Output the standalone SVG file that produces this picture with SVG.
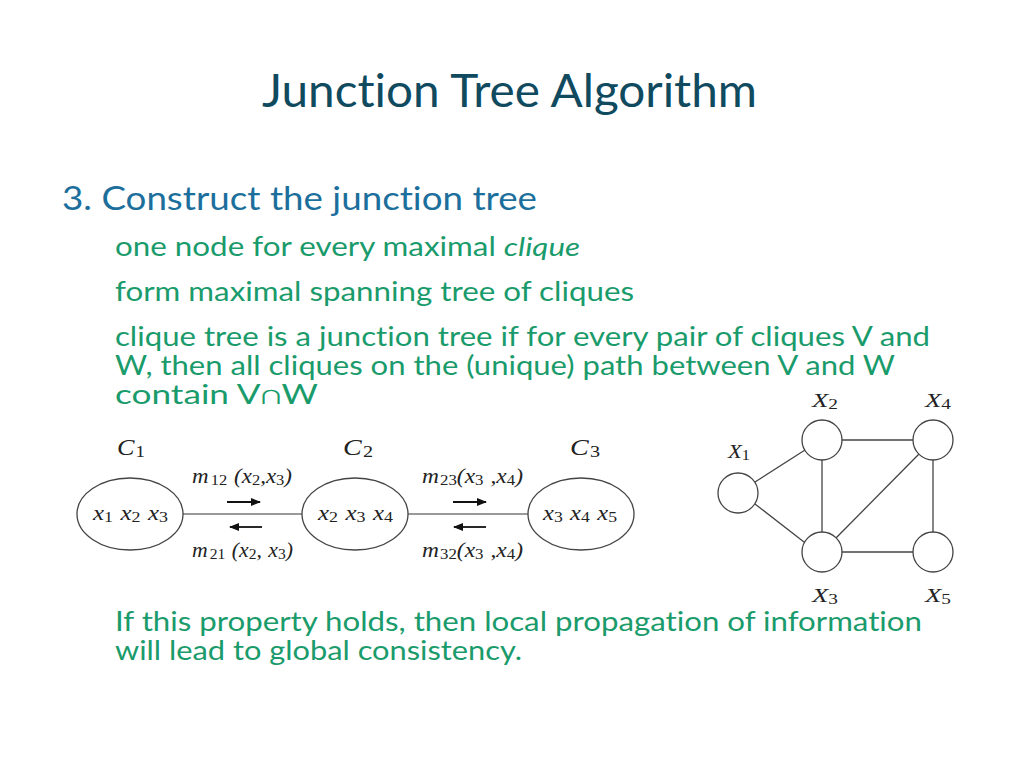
<svg xmlns="http://www.w3.org/2000/svg" width="1023" height="767" viewBox="0 0 1023 767">
<defs>
<style>
text{font-variant-ligatures:none}
.title{font-family:Lato,"Open Sans",sans-serif;font-size:46px;fill:#0f4a5f}
.h1{font-family:Lato,"Open Sans",sans-serif;font-size:32px;fill:#1c6f9c}
.g{font-family:Lato,"Open Sans",sans-serif;font-size:26px;fill:#1a9b6b}
.m{font-family:"Liberation Serif",serif;font-style:italic;fill:#222;word-spacing:1px}
.sub{font-style:normal;font-size:72%;baseline-shift:-2px}
.ell{fill:#fff;stroke:#444;stroke-width:1.3}
.edge{stroke:#777;stroke-width:1.6;fill:none}
.arr{stroke:#111;stroke-width:1.8;fill:none}
.gedge{stroke:#444;stroke-width:1.3;fill:none}
</style>
<marker id="ah" markerWidth="10" markerHeight="8" refX="9" refY="4" orient="auto" markerUnits="userSpaceOnUse">
<path d="M0,0 L10,4 L0,8 z" fill="#111"/>
</marker>
</defs>
<rect width="1023" height="767" fill="#fff"/>
<g id="text">
<text class="title" x="262" y="107" textLength="495" lengthAdjust="spacingAndGlyphs">Junction Tree Algorithm</text>
<text class="h1" x="62" y="210" textLength="475" lengthAdjust="spacingAndGlyphs">3. Construct the junction tree</text>
<text class="g" x="115" y="256" textLength="465" lengthAdjust="spacingAndGlyphs">one node for every maximal <tspan font-style="italic">clique</tspan></text>
<text class="g" x="115" y="301" textLength="519" lengthAdjust="spacingAndGlyphs">form maximal spanning tree of cliques</text>
<text class="g" x="115" y="346" textLength="815" lengthAdjust="spacingAndGlyphs">clique tree is a junction tree if for every pair of cliques V and</text>
<text class="g" x="115" y="375" textLength="780" lengthAdjust="spacingAndGlyphs">W, then all cliques on the (unique) path between V and W</text>
<text class="g" x="115" y="404" textLength="203" lengthAdjust="spacingAndGlyphs">contain V∩W</text>
<text class="g" x="115" y="631" textLength="807" lengthAdjust="spacingAndGlyphs">If this property holds, then local propagation of information</text>
<text class="g" x="115" y="660" textLength="407" lengthAdjust="spacingAndGlyphs">will lead to global consistency.</text>
</g>
<g id="connectors">
<line class="edge" x1="183" y1="514" x2="302" y2="514"/>
<line class="edge" x1="408" y1="514" x2="528" y2="514"/>
<line class="arr" x1="227" y1="502" x2="260" y2="502" marker-end="url(#ah)"/>
<line class="arr" x1="262" y1="527" x2="230" y2="527" marker-end="url(#ah)"/>
<line class="arr" x1="453" y1="502" x2="486" y2="502" marker-end="url(#ah)"/>
<line class="arr" x1="486" y1="527" x2="454" y2="527" marker-end="url(#ah)"/>
<line class="gedge" x1="755" y1="482" x2="805" y2="450"/>
<line class="gedge" x1="755" y1="504" x2="804" y2="542"/>
<line class="gedge" x1="822" y1="460" x2="822" y2="532"/>
<line class="gedge" x1="842" y1="440" x2="913" y2="440"/>
<line class="gedge" x1="836" y1="538" x2="919" y2="454"/>
<line class="gedge" x1="842" y1="552" x2="913" y2="552"/>
<line class="gedge" x1="933" y1="460" x2="933" y2="532"/>
<text class="m" x="192" y="483" font-size="21" textLength="100" lengthAdjust="spacingAndGlyphs">m<tspan class="sub" dx="2">12</tspan> (x<tspan class="sub">2</tspan>,x<tspan class="sub">3</tspan>)</text>
<text class="m" x="192" y="557" font-size="21" textLength="101" lengthAdjust="spacingAndGlyphs">m<tspan class="sub" dx="2">21</tspan> (x<tspan class="sub">2</tspan>, x<tspan class="sub">3</tspan>)</text>
<text class="m" x="422" y="483" font-size="21" textLength="101" lengthAdjust="spacingAndGlyphs">m<tspan class="sub" dx="1">23</tspan>(x<tspan class="sub">3</tspan> ,x<tspan class="sub">4</tspan>)</text>
<text class="m" x="422" y="557" font-size="21" textLength="101" lengthAdjust="spacingAndGlyphs">m<tspan class="sub" dx="1">32</tspan>(x<tspan class="sub">3</tspan> ,x<tspan class="sub">4</tspan>)</text>
</g>
<g id="C1">
<ellipse class="ell" cx="130" cy="514" rx="53" ry="36"/>
<text class="m" x="117" y="455" font-size="24" textLength="28" lengthAdjust="spacingAndGlyphs">C<tspan class="sub" dx="1">1</tspan></text>
<text class="m" x="93" y="520" font-size="20" textLength="75" lengthAdjust="spacingAndGlyphs">x<tspan class="sub">1</tspan> x<tspan class="sub">2</tspan> x<tspan class="sub">3</tspan></text>
</g>
<g id="C2">
<ellipse class="ell" cx="355" cy="514" rx="53" ry="36"/>
<text class="m" x="343" y="455" font-size="24" textLength="30" lengthAdjust="spacingAndGlyphs">C<tspan class="sub" dx="1">2</tspan></text>
<text class="m" x="318" y="520" font-size="20" textLength="75" lengthAdjust="spacingAndGlyphs">x<tspan class="sub">2</tspan> x<tspan class="sub">3</tspan> x<tspan class="sub">4</tspan></text>
</g>
<g id="C3">
<ellipse class="ell" cx="581" cy="514" rx="53" ry="36"/>
<text class="m" x="570" y="455" font-size="24" textLength="30" lengthAdjust="spacingAndGlyphs">C<tspan class="sub" dx="1">3</tspan></text>
<text class="m" x="543" y="520" font-size="20" textLength="74" lengthAdjust="spacingAndGlyphs">x<tspan class="sub">3</tspan> x<tspan class="sub">4</tspan> x<tspan class="sub">5</tspan></text>
</g>
<g id="X1">
<circle class="ell" cx="738" cy="493" r="20"/>
<text class="m" x="728" y="458" font-size="19" textLength="22" lengthAdjust="spacingAndGlyphs">X<tspan class="sub">1</tspan></text>
</g>
<g id="X2">
<circle class="ell" cx="822" cy="440" r="20"/>
<text class="m" x="812" y="407" font-size="19" textLength="26" lengthAdjust="spacingAndGlyphs">X<tspan class="sub">2</tspan></text>
</g>
<g id="X3">
<circle class="ell" cx="822" cy="552" r="20"/>
<text class="m" x="812" y="602" font-size="19" textLength="26" lengthAdjust="spacingAndGlyphs">X<tspan class="sub">3</tspan></text>
</g>
<g id="X4">
<circle class="ell" cx="933" cy="440" r="20"/>
<text class="m" x="925" y="407" font-size="19" textLength="26" lengthAdjust="spacingAndGlyphs">X<tspan class="sub">4</tspan></text>
</g>
<g id="X5">
<circle class="ell" cx="933" cy="552" r="20"/>
<text class="m" x="925" y="602" font-size="19" textLength="26" lengthAdjust="spacingAndGlyphs">X<tspan class="sub">5</tspan></text>
</g>
</svg>
